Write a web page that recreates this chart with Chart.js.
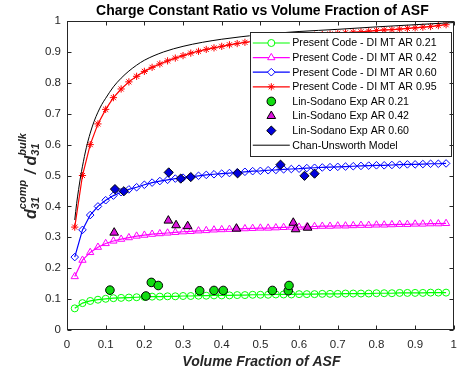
<!DOCTYPE html>
<html>
<head>
<meta charset="utf-8">
<script src="https://cdn.jsdelivr.net/npm/chart.js@4.4.1/dist/chart.umd.min.js"></script>
<style>
body { margin: 0; background: #fff; }
</style>
</head>
<body>
<canvas id="chart" width="465" height="373"></canvas>
<script>
// Volume fractions used by the simulation runs
const xSim = [
    0.02, 0.04, 0.06, 0.08, 0.10, 0.12, 0.14, 0.16, 0.18, 0.20,
    0.22, 0.24, 0.26, 0.28, 0.30, 0.32, 0.34, 0.36, 0.38, 0.40,
    0.42, 0.44, 0.46, 0.48, 0.50, 0.52, 0.54, 0.56, 0.58, 0.60,
    0.62, 0.64, 0.66, 0.68, 0.70, 0.72, 0.74, 0.76, 0.78, 0.80,
    0.82, 0.84, 0.86, 0.88, 0.90, 0.92, 0.94, 0.96, 0.98
];

// Present code results (d31 ratio)
const simAR021 = [
    0.070, 0.087, 0.094, 0.098, 0.101, 0.103, 0.104, 0.105, 0.106, 0.107,
    0.108, 0.108, 0.109, 0.109, 0.110, 0.110, 0.111, 0.111, 0.112, 0.112,
    0.112, 0.113, 0.113, 0.114, 0.114, 0.114, 0.115, 0.115, 0.115, 0.116,
    0.116, 0.116, 0.117, 0.117, 0.117, 0.118, 0.118, 0.118, 0.118, 0.119,
    0.119, 0.119, 0.120, 0.120, 0.120, 0.120, 0.121, 0.121, 0.121
];
const simAR042 = [
    0.173, 0.226, 0.251, 0.268, 0.280, 0.288, 0.294, 0.299, 0.304, 0.307,
    0.310, 0.312, 0.314, 0.316, 0.318, 0.319, 0.321, 0.322, 0.324, 0.325,
    0.326, 0.327, 0.328, 0.329, 0.330, 0.330, 0.331, 0.332, 0.333, 0.333,
    0.334, 0.335, 0.336, 0.336, 0.337, 0.337, 0.338, 0.339, 0.339, 0.340,
    0.340, 0.341, 0.342, 0.342, 0.343, 0.343, 0.344, 0.344, 0.345
];
const simAR060 = [
    0.236, 0.324, 0.372, 0.400, 0.420, 0.435, 0.446, 0.455, 0.462, 0.470,
    0.477, 0.482, 0.486, 0.490, 0.493, 0.496, 0.499, 0.502, 0.504, 0.506,
    0.508, 0.510, 0.512, 0.514, 0.515, 0.517, 0.518, 0.520, 0.521, 0.522,
    0.524, 0.525, 0.526, 0.527, 0.528, 0.529, 0.530, 0.531, 0.532, 0.533,
    0.533, 0.534, 0.535, 0.536, 0.536, 0.537, 0.538, 0.538, 0.539
];
const simAR095 = [
    0.333, 0.500, 0.600, 0.667, 0.714, 0.752, 0.780, 0.803, 0.821, 0.837,
    0.850, 0.861, 0.871, 0.880, 0.888, 0.896, 0.902, 0.908, 0.913, 0.918,
    0.923, 0.927, 0.931, 0.934, 0.937, 0.940, 0.942, 0.945, 0.947, 0.950,
    0.952, 0.954, 0.956, 0.958, 0.960, 0.962, 0.964, 0.965, 0.967, 0.969,
    0.971, 0.972, 0.974, 0.976, 0.978, 0.980, 0.982, 0.985, 0.988
];

// Lin-Sodano experiments
const expAR021X = [0.111, 0.204, 0.218, 0.236, 0.343, 0.380, 0.404, 0.531, 0.572, 0.574];
const expAR021Y = [0.129, 0.110, 0.154, 0.144, 0.127, 0.128, 0.128, 0.128, 0.127, 0.144];
const expAR042X = [0.122, 0.262, 0.282, 0.312, 0.438, 0.585, 0.591, 0.622];
const expAR042Y = [0.315, 0.354, 0.339, 0.336, 0.328, 0.347, 0.326, 0.331];
const expAR060X = [0.124, 0.147, 0.263, 0.294, 0.320, 0.441, 0.552, 0.614, 0.640];
const expAR060Y = [0.456, 0.449, 0.510, 0.490, 0.495, 0.507, 0.535, 0.499, 0.506];

// Chan-Unsworth model
const chanX = [0.02, 0.025, 0.03, 0.035, 0.04, 0.05, 0.06, 0.07, 0.08, 0.09, 0.10, 0.12, 0.14,
    0.16, 0.18, 0.20, 0.25, 0.30, 0.35, 0.40, 0.45, 0.50, 0.60, 0.70, 0.80, 0.90, 1.00];
const chanY = [0.356, 0.410, 0.455, 0.495, 0.530, 0.590, 0.637, 0.675, 0.705, 0.730, 0.750, 0.787, 0.815,
    0.838, 0.857, 0.873, 0.900, 0.918, 0.931, 0.941, 0.949, 0.956, 0.966, 0.973, 0.981, 0.988, 0.995];

const axisTicks = [0, 0.1, 0.2, 0.3, 0.4, 0.5, 0.6, 0.7, 0.8, 0.9, 1];

const titleText = "Charge Constant Ratio vs Volume Fraction of ASF";
const xTitleText = "Volume Fraction of ASF";

const FONT = '"Liberation Sans", Arial, Helvetica, sans-serif';
const AXIS_COLOR = "#262626";

function toPoints(xs, ys) {
    return xs.map((x, i) => ({ x: x, y: ys[i] }));
}

function tickLabel(v) {
    return String(Math.round(v * 10) / 10);
}

function simSet(label, ys, color, style, radius) {
    return {
        label: label,
        data: toPoints(xSim, ys),
        showLine: true,
        borderColor: color,
        borderWidth: 1.2,
        pointStyle: style,
        pointRadius: radius,
        pointBorderColor: color,
        pointBackgroundColor: "rgba(0,0,0,0)",
        pointBorderWidth: 1,
        order: 3
    };
}

function expSet(label, xs, ys, color, style, radius) {
    return {
        label: label,
        data: toPoints(xs, ys),
        showLine: false,
        borderColor: "#000",
        pointStyle: style,
        pointRadius: radius,
        pointBorderColor: "#000",
        pointBackgroundColor: color,
        pointBorderWidth: 1,
        order: 1
    };
}

const datasets = [
    simSet("Present Code - DI MT AR 0.21", simAR021, "#00ff00", "circle", 3.5),
    simSet("Present Code - DI MT AR 0.42", simAR042, "#ff00ff", "triangle", 4.2),
    simSet("Present Code - DI MT AR 0.60", simAR060, "#0000ff", "rectRot", 3.8),
    simSet("Present Code - DI MT AR 0.95", simAR095, "#ff0000", "star", 3.6),
    expSet("Lin-Sodano Exp AR 0.21", expAR021X, expAR021Y, "#11dd11", "circle", 4.3),
    expSet("Lin-Sodano Exp AR 0.42", expAR042X, expAR042Y, "#dd11dd", "triangle", 5),
    expSet("Lin-Sodano Exp AR 0.60", expAR060X, expAR060Y, "#0000dd", "rectRot", 4.6),
    {
        label: "Chan-Unsworth Model",
        data: toPoints(chanX, chanY),
        showLine: true,
        borderColor: "#000",
        borderWidth: 1,
        pointRadius: 0,
        cubicInterpolationMode: "monotone",
        order: 2
    }
];

// Legend drawn inside the plot area, like the MATLAB one
function drawLegend(chart) {
    const ctx = chart.ctx;
    const area = chart.chartArea;
    const right = area.right - 3;
    const top = area.top + 11;
    const width = 201;
    const rowH = 14.6;
    const height = rowH * chart.data.datasets.length + 7;
    const left = right - width;

    ctx.save();
    ctx.fillStyle = "#fff";
    ctx.fillRect(left, top, width, height);
    ctx.strokeStyle = AXIS_COLOR;
    ctx.lineWidth = 1;
    ctx.strokeRect(Math.round(left) + 0.5, Math.round(top) + 0.5, Math.round(width), Math.round(height));

    chart.data.datasets.forEach((ds, i) => {
        const y = top + 11 + i * rowH;
        const x0 = left + 3, x1 = left + 40, xm = left + 21.5;
        if (ds.showLine) {
            ctx.beginPath();
            ctx.strokeStyle = ds.borderColor;
            ctx.lineWidth = ds.borderWidth || 1;
            ctx.moveTo(x0, y);
            ctx.lineTo(x1, y);
            ctx.stroke();
        }
        if (ds.pointRadius > 0) {
            ctx.fillStyle = ds.showLine ? "#fff" : ds.pointBackgroundColor;
            ctx.strokeStyle = ds.pointBorderColor;
            ctx.lineWidth = 1;
            Chart.helpers.drawPoint(ctx, {
                pointStyle: ds.pointStyle,
                radius: ds.pointRadius,
                rotation: 0,
                borderWidth: 1
            }, xm, y);
        }
        ctx.fillStyle = "#000";
        ctx.font = "10.6px " + FONT;
        ctx.textAlign = "left";
        ctx.textBaseline = "middle";
        ctx.fillText(ds.label, left + 42.5, y + 0.5);
    });
    ctx.restore();
}

// y title: d31^comp / d31^bulk, written upward
function drawYTitle(ctx, centerY) {
    const big = "bold italic 16px " + FONT;
    const small = "bold italic 11px " + FONT;
    const baseY = 36, supY = 26, subY = 39;
    const parts = [
        { text: "d", font: big, y: baseY },
        { stack: [{ text: "comp", font: small, y: supY }, { text: "31", font: small, y: subY }] },
        { text: " / ", font: big, y: baseY },
        { text: "d", font: big, y: baseY },
        { stack: [{ text: "bulk", font: small, y: supY }, { text: "31", font: small, y: subY }] }
    ];
    ctx.save();
    function w(p) {
        ctx.font = p.font;
        return ctx.measureText(p.text).width;
    }
    let total = 0;
    parts.forEach(p => {
        p.width = p.stack ? Math.max(...p.stack.map(w)) + 1 : w(p);
        total += p.width;
    });
    ctx.translate(0, centerY);
    ctx.rotate(-Math.PI / 2);
    ctx.fillStyle = AXIS_COLOR;
    ctx.textAlign = "left";
    ctx.textBaseline = "alphabetic";
    let x = -total / 2;
    parts.forEach(p => {
        const items = p.stack || [p];
        items.forEach(it => {
            ctx.font = it.font;
            ctx.fillText(it.text, x, it.y);
        });
        x += p.width;
    });
    ctx.restore();
}

const matlabFrame = {
    id: "matlabFrame",
    afterDatasetsDraw(chart) {
        drawLegend(chart);
    },
    afterDraw(chart) {
        const ctx = chart.ctx;
        const a = chart.chartArea;
        const l = Math.round(a.left) + 0.5, r = Math.round(a.right) - 0.5;
        const t = Math.round(a.top) + 0.5, b = Math.round(a.bottom) - 0.5;
        const tick = 4;
        ctx.save();
        ctx.strokeStyle = AXIS_COLOR;
        ctx.lineWidth = 1;
        ctx.strokeRect(l, t, r - l, b - t);
        ctx.beginPath();
        axisTicks.forEach(v => {
            const px = Math.round(chart.scales.x.getPixelForValue(v)) + 0.5;
            ctx.moveTo(px, b); ctx.lineTo(px, b - tick);
            ctx.moveTo(px, t); ctx.lineTo(px, t + tick);
            const py = Math.round(chart.scales.y.getPixelForValue(v)) + 0.5;
            ctx.moveTo(l, py); ctx.lineTo(l + tick, py);
            ctx.moveTo(r, py); ctx.lineTo(r - tick, py);
        });
        ctx.stroke();

        const cx = (a.left + a.right) / 2;
        ctx.fillStyle = "#000";
        ctx.textAlign = "center";
        ctx.textBaseline = "middle";
        ctx.font = "bold 14px " + FONT;
        ctx.fillText(titleText, cx + 2, 11);

        ctx.fillStyle = AXIS_COLOR;
        ctx.font = "bold italic 14px " + FONT;
        ctx.fillText(xTitleText, cx + 1, 362);
        ctx.restore();

        drawYTitle(ctx, (a.top + a.bottom) / 2);
    }
};

Chart.defaults.font.family = FONT;

new Chart("chart", {
    type: "scatter",
    data: { datasets: datasets },
    options: {
        responsive: false,
        animation: false,
        layout: { padding: { left: 0, right: 9, top: 21, bottom: 0 } },
        plugins: {
            legend: { display: false },
            title: { display: false },
            tooltip: { enabled: false }
        },
        scales: {
            x: {
                type: "linear",
                min: 0,
                max: 1,
                grid: { display: false, drawTicks: false },
                border: { display: false },
                ticks: {
                    stepSize: 0.1,
                    padding: 8,
                    color: AXIS_COLOR,
                    font: { size: 11.5 },
                    maxRotation: 0,
                    callback: tickLabel
                },
                afterFit: function (scale) { scale.height = 43; }
            },
            y: {
                type: "linear",
                min: 0,
                max: 1,
                grid: { display: false, drawTicks: false },
                border: { display: false },
                ticks: {
                    stepSize: 0.1,
                    padding: 6,
                    color: AXIS_COLOR,
                    font: { size: 11.5 },
                    callback: tickLabel
                },
                afterFit: function (scale) { scale.width = 67; }
            }
        }
    },
    plugins: [matlabFrame]
});
</script>
</body>
</html>
